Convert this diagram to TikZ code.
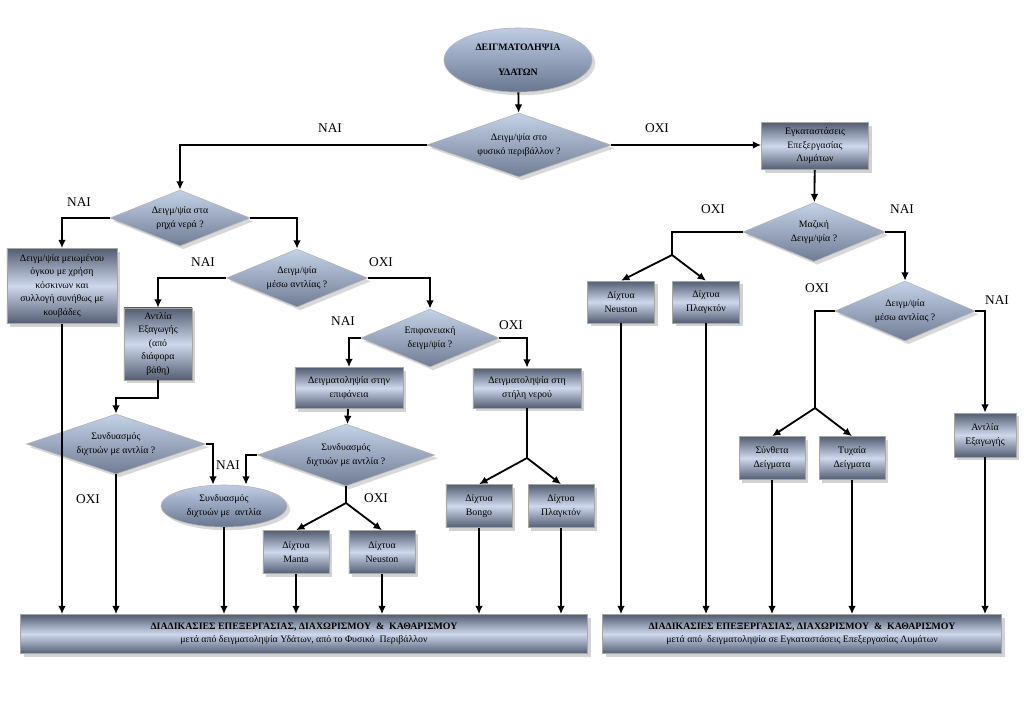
\documentclass[tikz,border=0pt]{standalone}
\usepackage{fontspec}
\setmainfont{Liberation Serif}
\usetikzlibrary{arrows.meta,shapes.geometric,shadows}
\definecolor{boxdark}{RGB}{84,94,114}
\definecolor{boxlight}{RGB}{206,216,236}
\definecolor{diamtop}{RGB}{196,210,232}
\definecolor{diambot}{RGB}{112,124,148}
\definecolor{ovaltop}{RGB}{190,204,228}
\definecolor{ovalbot}{RGB}{104,118,144}
\tikzset{
  stepbox/.style={rectangle, draw=gray!70, top color=boxdark, bottom color=boxdark,
    middle color=boxlight, drop shadow={opacity=0.35}, align=center, inner sep=1pt},
  question/.style={diamond, aspect=2.5, draw=gray!60, top color=diamtop, bottom color=diambot,
    drop shadow={opacity=0.3}, align=center, inner sep=0pt},
  oval/.style={ellipse, draw=gray!60, top color=ovaltop, bottom color=ovalbot,
    drop shadow={opacity=0.3}, align=center, inner sep=0pt},
  arr/.style={-{Latex[length=6pt,width=5.5pt]}, line width=1.3pt},
  link/.style={line width=1.3pt},
  lbl/.style={font=\fontsize{9.5}{11}\selectfont}
}
\begin{document}
\begin{tikzpicture}[x=0.025cm, y=-0.025cm, every node/.style={font=\fontsize{7}{9.6}\selectfont}]
\useasboundingbox[fill=white] (0,0) rectangle (1024,724);
% top
\node[oval, minimum width=3.7cm, minimum height=1.6cm, font=\bfseries\fontsize{7}{9.6}\selectfont] (start) at (518,60) {ΔΕΙΓΜΑΤΟΛΗΨΙΑ\\[8pt]ΥΔΑΤΩΝ};
\node[question, minimum width=4.6cm, minimum height=1.6cm] (natural) at (519,145) {Δειγμ/ψία στο\\φυσικό περιβάλλον ?};
\node[stepbox, minimum width=2.675cm, minimum height=1.175cm] (plants) at (815,146) {Εγκαταστάσεις\\Επεξεργασίας\\Λυμάτων};
% left branch
\node[question, minimum width=3.5cm, minimum height=1.4cm] (shallow) at (180,218) {Δειγμ/ψία στα\\ρηχά νερά ?};
\node[stepbox, minimum width=2.75cm, minimum height=1.875cm] (smallvol) at (62,286) {Δειγμ/ψία μειωμένου\\όγκου με χρήση\\κόσκινων και\\συλλογή συνήθως με\\κουβάδες};
\node[question, minimum width=3.525cm, minimum height=1.45cm] (pumpQ) at (297,278) {Δειγμ/ψία\\μέσω αντλίας ?};
\node[stepbox, minimum width=1.7cm, minimum height=1.8cm] (pumpA) at (158,344) {Αντλία\\Εξαγωγής\\(από\\διάφορα\\βάθη)};
\node[question, minimum width=3.45cm, minimum height=1.45cm] (surfaceQ) at (430,338) {Επιφανειακή\\δειγμ/ψία ?};
\node[stepbox, minimum width=2.7cm, minimum height=1.025cm] (surface) at (349,388) {Δειγματοληψία στην\\επιφάνεια};
\node[stepbox, minimum width=2.7cm, minimum height=1.0cm] (column) at (527,388) {Δειγματοληψία στη\\στήλη νερού};
\node[question, minimum width=4.475cm, minimum height=1.5cm] (comboQa) at (116,444) {Συνδυασμός\\διχτυών με αντλία ?};
\node[question, minimum width=4.425cm, minimum height=1.55cm] (comboQb) at (346,455) {Συνδυασμός\\διχτυών με αντλία ?};
\node[oval, minimum width=3.15cm, minimum height=1.05cm] (combo) at (224,506) {Συνδυασμός\\διχτυών με\ \ αντλία};
\node[stepbox, minimum width=1.65cm, minimum height=1.075cm] (manta) at (296,552) {Δίχτυα\\Manta};
\node[stepbox, minimum width=1.65cm, minimum height=1.075cm] (neustonA) at (382,552) {Δίχτυα\\Neuston};
\node[stepbox, minimum width=1.65cm, minimum height=1.075cm] (bongo) at (479,506) {Δίχτυα\\Bongo};
\node[stepbox, minimum width=1.65cm, minimum height=1.075cm] (planktonA) at (561,506) {Δίχτυα\\Πλαγκτόν};
% right branch
\node[question, minimum width=3.55cm, minimum height=1.475cm] (bulkQ) at (814,232) {Μαζική\\Δειγμ/ψία ?};
\node[stepbox, minimum width=1.675cm, minimum height=1.05cm] (neustonB) at (621,302) {Δίχτυα\\Neuston};
\node[stepbox, minimum width=1.675cm, minimum height=1.05cm] (planktonB) at (706,302) {Δίχτυα\\Πλαγκτόν};
\node[question, minimum width=3.5cm, minimum height=1.5cm] (pumpQr) at (905,311) {Δειγμ/ψία\\μέσω αντλίας ?};
\node[stepbox, minimum width=1.65cm, minimum height=1.075cm] (composite) at (772,458) {Σύνθετα\\Δείγματα};
\node[stepbox, minimum width=1.65cm, minimum height=1.075cm] (random) at (852,458) {Τυχαία\\Δείγματα};
\node[stepbox, minimum width=1.55cm, minimum height=1.1cm] (pumpB) at (985,435) {Αντλία\\Εξαγωγής};
% bottom bars
\node[stepbox, minimum width=14.175cm, minimum height=0.975cm] (barL) at (304,634) {\textbf{ΔΙΑΔΙΚΑΣΙΕΣ ΕΠΕΞΕΡΓΑΣΙΑΣ, ΔΙΑΧΩΡΙΣΜΟΥ\ \ \&\ \ ΚΑΘΑΡΙΣΜΟΥ}\\μετά από δειγματοληψία Υδάτων, από το Φυσικό\ \ Περιβάλλον};
\node[stepbox, minimum width=9.975cm, minimum height=0.975cm] (barR) at (802,634) {\textbf{ΔΙΑΔΙΚΑΣΙΕΣ ΕΠΕΞΕΡΓΑΣΙΑΣ, ΔΙΑΧΩΡΙΣΜΟΥ\ \ \&\ \ ΚΑΘΑΡΙΣΜΟΥ}\\μετά από\ \ δειγματοληψία σε Εγκαταστάσεις Επεξεργασίας Λυμάτων};
% junctions
\coordinate (jcol) at (527,458);
\coordinate (jmanta) at (346,503);
\coordinate (jbulk) at (672,255);
\coordinate (jpumpr) at (815,408);
% connectors
\draw[arr] (start) -- (natural);
\draw[arr] (natural.west) -| (shallow.north);
\draw[arr] (natural.east) -- (natural.east -| plants.west);
\draw[arr] (shallow.west) -| (smallvol.north);
\draw[arr] (shallow.east) -| (pumpQ.north);
\draw[arr] (pumpQ.west) -| (pumpA.north);
\draw[arr] (pumpQ.east) -| (surfaceQ.north);
\draw[arr] (pumpA.south) -- ++(0,18) -| (comboQa.north);
\draw[arr] (surfaceQ.west) -| (surface.north);
\draw[arr] (surfaceQ.east) -| (column.north);
\draw[arr] (surface) -- (comboQb);
\draw[arr] (comboQa.east) -| ([xshift=-0.275cm]combo.north);
\draw[arr] (comboQb.west) -| ([xshift=0.55cm]combo.north);
\draw[link] (column) -- (jcol);
\draw[link] (comboQb) -- (jmanta);
\foreach \n/\j in {bongo/jcol, planktonA/jcol, manta/jmanta, neustonA/jmanta}
  \draw[arr] (\j) -- (\n.north);
\draw[arr] (plants) -- (bulkQ);
\draw[link] (bulkQ.west) -| (jbulk);
\draw[arr] (bulkQ.east) -| (pumpQr.north);
\draw[link] (pumpQr.west) -| (jpumpr);
\draw[arr] (pumpQr.east) -| (pumpB.north);
\foreach \n/\j in {neustonB/jbulk, planktonB/jbulk, composite/jpumpr, random/jpumpr}
  \draw[arr] (\j) -- (\n.north);
\foreach \n in {smallvol, comboQa, combo, manta, neustonA, bongo, planktonA}
  \draw[arr] (\n) -- (\n |- barL.north);
\foreach \n in {neustonB, planktonB, composite, random, pumpB}
  \draw[arr] (\n) -- (\n |- barR.north);
% labels
\foreach \x/\y/\t [count=\i] in {330/128/ΝΑΙ, 657/128/ΟΧΙ, 79/202/ΝΑΙ, 203/262/ΝΑΙ,
    381/262/ΟΧΙ, 343/321/ΝΑΙ, 511/325/ΟΧΙ, 228/465/ΝΑΙ, 88/499/ΟΧΙ, 376/498/ΟΧΙ,
    713/209/ΟΧΙ, 902/209/ΝΑΙ, 817/288/ΟΧΙ, 997/300/ΝΑΙ}
  \node[lbl] (lbl\i) at (\x,\y) {\t};
\end{tikzpicture}
\end{document}
